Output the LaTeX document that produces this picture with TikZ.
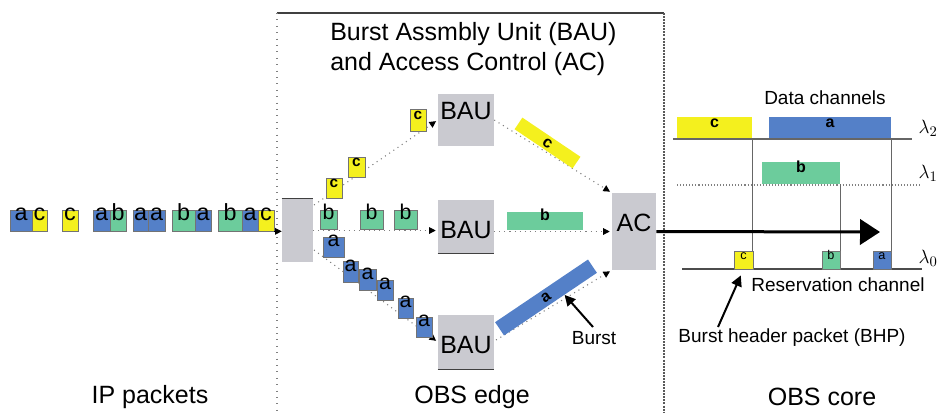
\documentclass[tikz,border=0pt]{standalone}
\usepackage{fontspec}
\setmainfont{Liberation Sans}
\usetikzlibrary{arrows.meta,fit,calc}
\definecolor{pblue}{RGB}{84,128,200}
\definecolor{pyel}{RGB}{244,240,30}
\definecolor{pgreen}{RGB}{108,204,156}
\definecolor{bgray}{RGB}{202,202,208}
\begin{document}
\begin{tikzpicture}[x=0.75pt,y=-0.75pt,
  pkt/.style={draw=black!55, line width=0.5pt, inner sep=0pt, font=\fontsize{17.5}{17.5}\selectfont},
  mpkt/.style={draw=black!55, line width=0.5pt, inner sep=0pt, font=\fontsize{16}{16}\selectfont},
  spkt/.style={draw=black!55, line width=0.5pt, inner sep=0pt, font=\bfseries\fontsize{11.5}{11.5}\selectfont},
  hpkt/.style={draw=black!55, line width=0.5pt, inner sep=0pt, font=\fontsize{9.5}{9.5}\selectfont},
  boxn/.style={fill=bgray, inner sep=0pt, font=\fontsize{18.75}{18.75}\selectfont},
  lbl/.style={font=\fontsize{18.75}{22}\selectfont, inner sep=0pt},
  slbl/.style={font=\fontsize{14.25}{16}\selectfont, inner sep=0pt},
  lam/.style={font=\fontsize{15}{15}\selectfont},
  burstn/.style={inner sep=0pt, font=\bfseries\fontsize{12}{12}\selectfont},
  flow/.style={gray, line width=0.8pt, dash pattern=on 0.8pt off 3pt,
    -{Triangle[length=5pt,width=5pt,black]}, shorten >=1.5pt},
  smallarr/.style={black, line width=0.6pt, -{Triangle[length=5pt,width=5pt]}},
  bigarr/.style={black, line width=2.25pt, -{Triangle[length=15pt,width=19pt]}},
  thinarr/.style={black, line width=1.5pt, -{Triangle[length=8pt,width=8pt]}}
]
\useasboundingbox (0,0) rectangle (941,412);

% frame of the edge section
\draw[black!75, line width=0.8pt] (277,13) -- (664,13);
\draw[gray, line width=0.8pt, dash pattern=on 0.8pt off 4pt] (277,13) -- (277,412);
\draw[black!65, line width=0.8pt, dash pattern=on 1.5pt off 0.8pt] (664,13) -- (664,412);

% title
\node[lbl, anchor=west, align=left] (title) at (330,49) {Burst Assmbly Unit (BAU)\\and Access Control (AC)};

% boxes
\node[boxn, fit={(282,199) (313,262)}] (split) {};
\node[boxn, fit={(438,94) (494,146)}] (bautop) {BAU};
\node[boxn, fit={(438,200) (494,253)}] (baumid) {};
\node[lbl] at (466,230) {BAU};
\node[boxn, fit={(438,315) (494,369)}] (baubot) {};
\node[lbl] at (466,345) {BAU};
\node[boxn, fit={(612,193) (656,270)}] (ac) {AC};
\draw[black!75, line width=0.8pt] (split.north west) -- (split.north east);
\draw[black!75, line width=0.8pt] (baumid.south west) -- (baumid.south east);
\draw[black!75, line width=0.8pt] (baubot.south west) -- (baubot.south east);

% connection points on the splitter
\coordinate (s1) at (314,205);
\coordinate (s3) at (314,250);
\coordinate (b3) at (496,340);

% dotted flows
\draw[flow] (s1) -- (bautop.west);
\draw[flow] (split.east) -- (split.east -| baumid.west);
\draw[flow] (s3) -- (baubot.west);
\draw[flow] (bautop.east) -- (ac.north west);
\draw[flow] (baumid.east |- ac.west) -- (ac.west);
\draw[flow] (b3) -- (ac.south west);

% bursts
\node[burstn, fill=pyel, minimum width=52.5pt, minimum height=10.5pt, rotate=-34] (burstC) at (547.5,143) {c};
\node[burstn, fill=pgreen, fit={(507,212) (583,230)}] (burstB) {b};
\node[burstn, fill=pblue, minimum width=84pt, minimum height=12pt, rotate=34] (burstA) at (546,297.5) {a};

% burst label
\node[slbl] (burstlbl) at (594,338) {Burst};
\coordinate (burstTail) at (593,327);
\draw[thinarr] (burstTail) -- ($(burstA.south)!0.3!(burstA.south east)$);

% input queue
\node[pkt, fill=pblue,  fit={(10,210) (32,231)}] (q1) {a};
\node[pkt, fill=pyel,   fit={(32,210) (47,231)}] (q2) {c};
\node[pkt, fill=pyel,   fit={(62,210) (78,231)}] (q3) {c};
\node[pkt, fill=pblue,  fit={(93,210) (110,231)}] (q4) {a};
\node[pkt, fill=pgreen, fit={(110,210) (126,231)}] (q5) {b};
\node[pkt, fill=pblue,  fit={(133,210) (148,231)}] (q6) {a};
\node[pkt, fill=pblue,  fit={(148,210) (165,231)}] (q7) {a};
\node[pkt, fill=pgreen, fit={(172,210) (195,231)}] (q8) {b};
\node[pkt, fill=pblue,  fit={(195,210) (211,231)}] (q9) {a};
\node[pkt, fill=pgreen, fit={(218,210) (242,231)}] (q10) {b};
\node[pkt, fill=pblue,  fit={(242,210) (258,231)}] (q11) {a};
\node[pkt, fill=pyel,   fit={(258,210) (274,231)}] (q12) {c};
\draw[smallarr] (q12.south east) -- (q12.south east -| split.west);

% packets on the way to the BAUs
\node[spkt, fill=pyel, fit={(326,178) (342,198)}] (c3) {c};
\node[spkt, fill=pyel, fit={(348,157) (365,177)}] (c2) {c};
\node[spkt, fill=pyel, fit={(410,109) (426,131)}] (c1) {c};
\node[mpkt, fill=pgreen, fit={(320,210) (337,229)}] (bb1) {b};
\node[mpkt, fill=pgreen, fit={(360,210) (383,229)}] (bb2) {b};
\node[mpkt, fill=pgreen, fit={(394,210) (417,229)}] (bb3) {b};
\node[mpkt, fill=pblue, fit={(323,237) (344,257)}] (aa1) {a};
\node[mpkt, fill=pblue, fit={(343,261) (358,282)}] (aa2) {a};
\node[mpkt, fill=pblue, fit={(359,269) (376,290)}] (aa3) {a};
\node[mpkt, fill=pblue, fit={(377,280) (393,300)}] (aa4) {a};
\node[mpkt, fill=pblue, fit={(398,298) (413,318)}] (aa5) {a};
\node[mpkt, fill=pblue, fit={(416,317) (432,337)}] (aa6) {a};

% core: channels
\draw[black!60, line width=0.8pt] (673,139) -- (912,139);
\draw[gray, line width=0.8pt, dash pattern=on 0.8pt off 1.5pt] (677,185) -- (920,185);
\draw[black!70, line width=0.8pt] (682,269) -- (922,269);
\draw[black!60, line width=0.7pt] (752,139) -- (752,269);
\draw[black!60, line width=0.7pt] (840,184) -- (840,269);
\draw[black!60, line width=0.7pt] (891,139) -- (891,269);

\node[burstn, fill=pyel,   fit={(677,117) (752,138)}] (dc) {c};
\node[burstn, fill=pblue,  fit={(769,117) (891,138)}] (da) {a};
\node[burstn, fill=pgreen, fit={(762,162) (840,184)}] (db) {b};
\node[hpkt, fill=pyel,   fit={(734,251) (753,269)}] (hc) {c};
\node[hpkt, fill=pgreen, fit={(822,251) (840,269)}] (hb) {b};
\node[hpkt, fill=pblue,  fit={(873,251) (891,269)}] (ha) {a};

\node[lam] (l2) at (928,128) {$\lambda_2$};
\node[lam] (l1) at (928,173) {$\lambda_1$};
\node[lam] (l0) at (928,258) {$\lambda_0$};

\node[slbl] (datalbl) at (825,98) {Data channels};
\node[slbl] (reslbl) at (838,285) {Reservation channel};
\node[slbl] (bhplbl) at (792,338) {Burst header packet (BHP)};
\coordinate (bhpTail) at (718,327);
\draw[thinarr, shorten >=5pt] (bhpTail) -- (hc.south);

% big arrow AC -> core
\coordinate (bigend) at (880,232);
\draw[bigarr] (ac.east) -- (bigend);

% section labels
\node[lbl] (iplbl) at (150,397) {IP packets};
\node[lbl] (edgelbl) at (472,397) {OBS edge};
\node[lbl] (corelbl) at (822,397) {OBS core};
\end{tikzpicture}
\end{document}
